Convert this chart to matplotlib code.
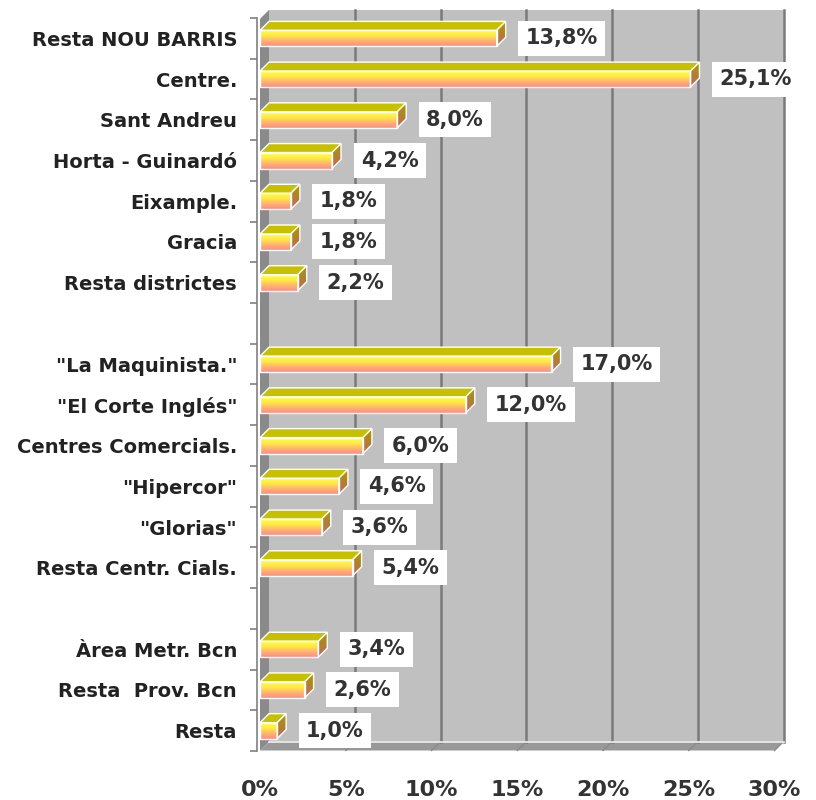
import numpy as np
import matplotlib
matplotlib.use("Agg")
import matplotlib.pyplot as plt
from matplotlib.patches import Polygon, Rectangle
from matplotlib.colors import LinearSegmentedColormap

categories = ["Resta NOU BARRIS", "Centre.", "Sant Andreu", "Horta - Guinardó",
              "Eixample.", "Gracia", "Resta districtes", "",
              "\"La Maquinista.\"", "\"El Corte Inglés\"", "Centres Comercials.",
              "\"Hipercor\"", "\"Glorias\"", "Resta Centr. Cials.", "",
              "Àrea Metr. Bcn", "Resta  Prov. Bcn", "Resta"]
values = [13.8, 25.1, 8.0, 4.2, 1.8, 1.8, 2.2, np.nan,
          17.0, 12.0, 6.0, 4.6, 3.6, 5.4, np.nan,
          3.4, 2.6, 1.0]
xticks = [0, 5, 10, 15, 20, 25, 30]
xticklabels = ["0%", "5%", "10%", "15%", "20%", "25%", "30%"]

W, H = 816, 800
fig = plt.figure(figsize=(W / 100, H / 100), dpi=100)
fig.patch.set_facecolor("white")

# axes geometry (front plane of the 3D box)
left_px, right_px = 260, 774.5
top_px, bot_px = 18, 751
ax = fig.add_axes([left_px / W, (H - bot_px) / H, (right_px - left_px) / W, (bot_px - top_px) / H])
for s in ["top", "right", "bottom"]:
    ax.spines[s].set_visible(False)
ax.spines["left"].set_position(("outward", 2.5))
ax.spines["left"].set_color("#808080")
ax.spines["left"].set_linewidth(1.2)

n = len(categories)
slot = 40.8
y0 = 37.5
ytop = (top_px - y0) / slot
ybot = (bot_px - y0) / slot
ax.set_xlim(0, 30)
ax.set_ylim(ybot, ytop)
ax.set_facecolor("none")

pxx = (right_px - left_px) / 30.0
depth = 9.0
dx = depth / pxx
dy = -depth / slot

# back wall
wall = Polygon([(dx, ytop + dy), (30 + dx, ytop + dy), (30 + dx, ybot + dy), (dx, ybot + dy)],
               closed=True, facecolor="#c0c0c0", edgecolor="none", zorder=0, clip_on=False)
ax.add_patch(wall)
# left wall
lw_ = Polygon([(0, ytop), (dx, ytop + dy), (dx, ybot + dy), (0, ybot)], closed=True,
              facecolor="#8a8a8a", edgecolor="none", zorder=0.5, clip_on=False)
ax.add_patch(lw_)
# floor
floor = Polygon([(0, ybot), (dx, ybot + dy), (30 + dx, ybot + dy), (30, ybot)], closed=True,
                facecolor="#999999", edgecolor="none", zorder=0.5, clip_on=False)
ax.add_patch(floor)
# gridlines
for xv in xticks[1:]:
    ax.plot([xv + dx, xv + dx], [ytop + dy, ybot + dy], color="#7a7a7a", lw=1.8, zorder=0.6, clip_on=False)
    ax.plot([xv + dx, xv], [ybot + dy, ybot], color="#8a8a8a", lw=1.0, zorder=0.6, clip_on=False)
ax.plot([dx, 30 + dx], [ybot + dy, ybot + dy], color="#f0f0f0", lw=1.2, zorder=0.7, clip_on=False)

front_cmap = LinearSegmentedColormap.from_list("front", ["#ffff3a", "#ffe848", "#ffb470", "#ff8a8a"])
side_cmap = LinearSegmentedColormap.from_list("side", ["#a89a00", "#b08030", "#c06a60"])
grad = np.linspace(0, 1, 64).reshape(-1, 1)

h = 16.0 / slot
for i, v in enumerate(values):
    if np.isnan(v):
        continue
    yt = i - h / 2
    yb = i + h / 2
    # top face
    top = Polygon([(0, yt), (v, yt), (v + dx, yt + dy), (dx, yt + dy)], closed=True,
                  facecolor="#c6c000", edgecolor="white", lw=1.0, zorder=3)
    ax.add_patch(top)
    # side face with gradient
    side = Polygon([(v, yt), (v + dx, yt + dy), (v + dx, yb + dy), (v, yb)], closed=True,
                   facecolor="none", edgecolor="white", lw=1.0, zorder=3.2)
    ax.add_patch(side)
    im = ax.imshow(grad, cmap=side_cmap, aspect="auto", extent=(v, v + dx, yb, yt + dy),
                   interpolation="bilinear", zorder=3.1)
    im.set_clip_path(side)
    # front face gradient
    ax.imshow(grad, cmap=front_cmap, aspect="auto", extent=(0, v, yb, yt),
              interpolation="bilinear", zorder=3)
    ax.add_patch(Rectangle((0, yt), v, h, facecolor="none", edgecolor="white", lw=1.0, zorder=3.3))
    # value label
    ax.annotate(f"{v:.1f}%".replace(".", ","), xy=(v, i), xytext=(29, 0),
                textcoords="offset pixels", ha="left", va="center",
                fontsize=15, fontweight="bold", color="#333333", zorder=5,
                annotation_clip=False,
                bbox=dict(boxstyle="square,pad=0.36", facecolor="white", edgecolor="none"))

ax.set_xlim(0, 30)
ax.set_ylim(ybot, ytop)

ax.set_yticks(range(n))
ax.set_yticklabels(categories, fontsize=14, fontweight="bold", color="#222222")
ax.set_yticks([i + 0.5 for i in range(-1, n)], minor=True)
ax.tick_params(axis="y", which="major", length=0, pad=14)
ax.tick_params(axis="y", which="minor", length=5, color="#808080", width=1.2)
ax.set_xticks(xticks)
ax.set_xticklabels(xticklabels, fontsize=16, fontweight="bold", color="#333333")
ax.tick_params(axis="x", length=0, pad=21)

fig.savefig("out.png", dpi=100, facecolor="white")
